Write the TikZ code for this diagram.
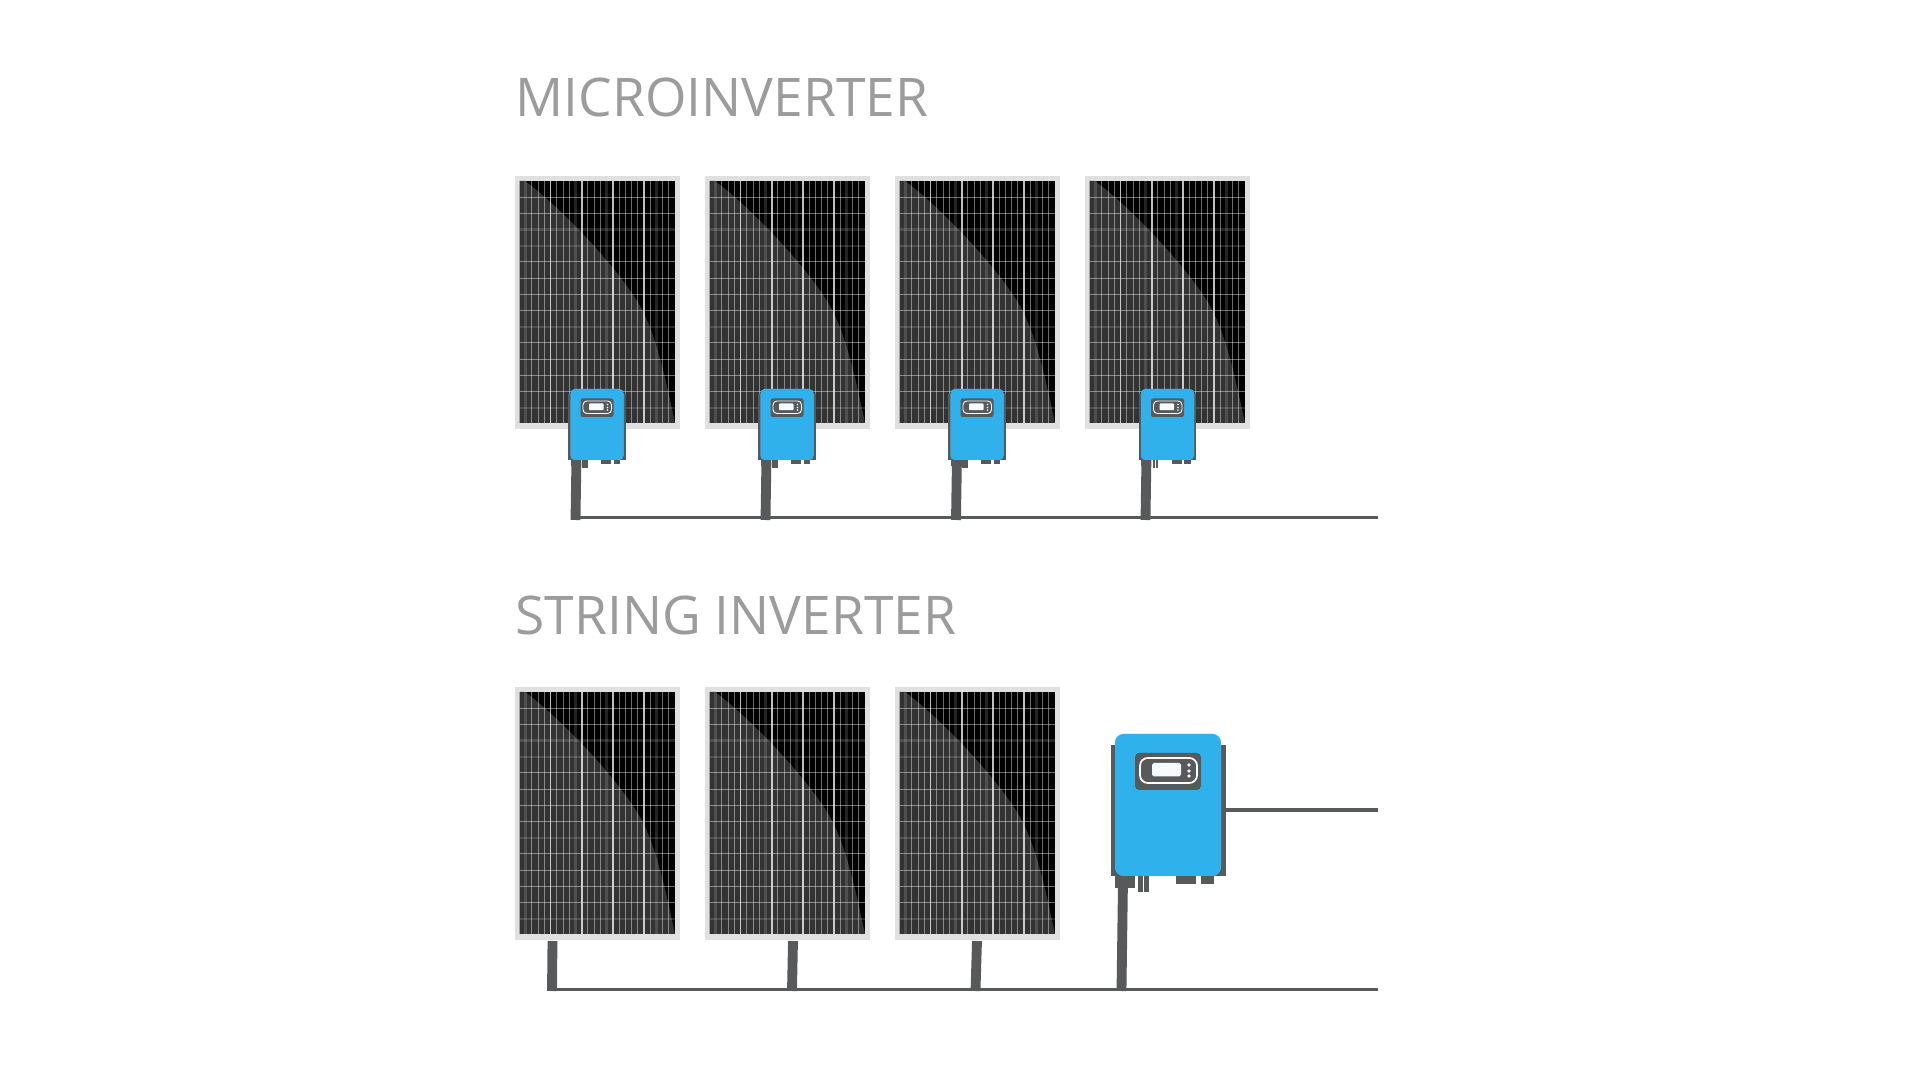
\documentclass[tikz,border=0pt]{standalone}
\usepackage{fontspec}
\setmainfont{Open Sans}
\definecolor{invblue}{HTML}{2FB1EC}
\definecolor{cabgray}{HTML}{58595B}
\definecolor{framegray}{HTML}{E0E0E0}
\definecolor{titlegray}{HTML}{9C9C9C}
\definecolor{cellgray}{HTML}{333333}
\begin{document}
\begin{tikzpicture}
        [x=0.01cm, y=-0.01cm,
        title/.style={text=titlegray, font=\fontsize{15.15}{18}\selectfont, anchor=base west, inner sep=0pt},
        cable/.style={cabgray, line width=2.8pt},
        bus/.style={cabgray, line width=1.05pt},
        minorline/.style={white, opacity=0.42, line width=0.28pt},
        dimline/.style={white, opacity=0.14, line width=0.7pt},
        majorline/.style={white, opacity=0.75, line width=0.5pt},
        panel/.pic={
            \fill[framegray] (0,0) rectangle (165,253);
            \fill[black] (4.5,5) rectangle (160,247);
            \fill[cellgray] (4.5,5) -- (10,5) .. controls (50,35) and (105,95) .. (125,130)
                .. controls (142,160) and (152,210) .. (160,247) -- (4.5,247) -- cycle;
            % cell grid
            \foreach \i in {2,3,4,6,7,8,11,12,13,16,17,18,19,21,23,24} {
                \draw[minorline] ({4.5+\i*6.22},5) -- ({4.5+\i*6.22},247);
            }
            \foreach \i in {1,9,14,22} {
                \draw[dimline] ({4.5+\i*6.22},5) -- ({4.5+\i*6.22},247);
            }
            \foreach \i in {1,2,5,6,7,8,10,11,12,13} {
                \draw[minorline] (4.5,{5+\i*16.2}) -- (160,{5+\i*16.2});
            }
            \foreach \i in {3,4,9,14} {
                \draw[dimline] (4.5,{5+\i*16.2}) -- (160,{5+\i*16.2});
            }
            \foreach \i in {1,...,4} {
                \draw[majorline] ({4.5+\i*31.1},5) -- ({4.5+\i*31.1},247);
            }
        },
        % first argument is the size, second the opacity of the front
        pics/inverter/.style 2 args={code={
            \begin{scope}[scale=#1]
            \fill[cabgray] (-57.5,11) rectangle (57.5,142);
            \fill[cabgray] (-53,140) rectangle (-33,154);
            \fill[cabgray] (-29.7,140) rectangle (-25,158);
            \fill[cabgray] (-24,140) rectangle (-19,158);
            \fill[cabgray] (8,140) rectangle (28,150);
            \fill[cabgray] (33,140) rectangle (46,150);
            \fill[invblue!85!white, rounded corners=#1*2.5pt] (-53,0) rectangle (53,142);
            \fill[invblue, fill opacity=#2, rounded corners=#1*2.5pt] (-53,0) rectangle (53,142);
            \fill[cabgray, rounded corners=#1*1.2pt] (-33,19) rectangle (33,56);
            \draw[white, rounded corners=#1*2.2pt, line width=#1*0.5pt] (-28,24) rectangle (29,49);
            \fill[white!95!invblue, rounded corners=#1*0.5pt] (-16,29) rectangle (13,42.5);
            \fill[white!90!invblue] (21,31) circle (1.9) (21,37) circle (1.9) (21,42) circle (1.9);
            \end{scope}
        }}]

        \useasboundingbox (0,0) rectangle (1920,1080);

        \node[title] (microtitle) at (515,116.5) {MICROINVERTER};
        \node[title] (stringtitle) at (515,634.5) {STRING INVERTER};

        % microinverter row
        \foreach \n/\px in {1/515,2/705,3/895,4/1085} {
            \pic at (\px,176) {panel};
        }
        \coordinate (micstart) at (571,517.5);
        \coordinate (micend) at (1378,517.5);
        \draw[bus] (micstart) -- (micend);
        \foreach \n/\ix/\bx in {1/597/575.5,2/787/765.5,3/977/956,4/1167.5/1145.5} {
            \coordinate (mictop\n) at (\bx+1,455);
            \coordinate (micbot\n) at (\bx,520);
            \draw[cable] (mictop\n) -- (micbot\n);
            \pic at (\ix,389) {inverter={0.5}{0.94}};
        }

        % string inverter row
        \foreach \n/\px in {1/515,2/705,3/895} {
            \pic at (\px,687) {panel};
        }
        \coordinate (strstart) at (547,989.5);
        \coordinate (strend) at (1378,989.5);
        \coordinate (acstart) at (1225,810);
        \coordinate (acend) at (1378,810);
        \draw[bus] (strstart) -- (strend);
        \draw[bus] (acstart) -- (acend);
        \foreach \n/\tx/\bx in {1/552.5/552,2/793/792,3/977/975.5} {
            \coordinate (strtop\n) at (\tx,941);
            \coordinate (strbot\n) at (\bx,991);
            \draw[cable] (strtop\n) -- (strbot\n);
        }
        \pic at (1168,734) {inverter={1}{1}};
        \coordinate (strtop4) at (1123,880);
        \coordinate (strbot4) at (1121.5,991);
        \draw[cable] (strtop4) -- (strbot4);

\end{tikzpicture}
\end{document}
